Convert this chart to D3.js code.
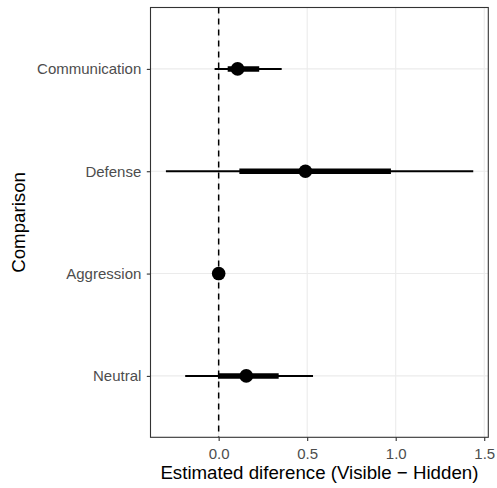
<!DOCTYPE html>
<html>
<head>
<meta charset="utf-8">
<script src="https://cdn.jsdelivr.net/npm/d3@7"></script>
<style>
  body { margin: 0; background: #fff; }
  svg { display: block; font-family: "Liberation Sans", Arial, sans-serif; }
</style>
</head>
<body>
<svg id="chart" width="497" height="488"></svg>
<script>
// categories top to bottom
const categories = ['Communication', 'Defense', 'Aggression', 'Neutral'];
const estimates = [0.107, 0.49, 0.0, 0.156];
const innerLow = [0.051, 0.117, 0.0, -0.004];
const innerHigh = [0.229, 0.973, 0.0, 0.339];
const outerLow = [-0.023, -0.298, 0.0, -0.189];
const outerHigh = [0.356, 1.438, 0.0, 0.533];
const xTicks = [0, 0.5, 1.0, 1.5];

const width = 497;
const height = 488;
const margin = { top: 7.5, right: 8.7, bottom: 50.7, left: 150.5 };
const innerWidth = width - margin.left - margin.right;
const innerHeight = height - margin.top - margin.bottom;

const rows = categories.map((name, i) => ({
  name,
  est: estimates[i],
  lo: innerLow[i],
  hi: innerHigh[i],
  lo2: outerLow[i],
  hi2: outerHigh[i],
}));

const x = d3.scaleLinear().domain([-0.385, 1.523]).range([0, innerWidth]);

// discrete axis with ggplot-style 0.6 expansion on each side
const y = d3
  .scalePoint()
  .domain(categories)
  .range([0, innerHeight])
  .padding(0.6);

const svg = d3.select('#chart');
const root = svg.append('g').attr('transform', `translate(${margin.left}, ${margin.top})`);

// grid
root
  .append('g')
  .selectAll('line')
  .data(xTicks)
  .enter()
  .append('line')
  .attr('x1', (d) => x(d))
  .attr('x2', (d) => x(d))
  .attr('y1', 0)
  .attr('y2', innerHeight)
  .attr('stroke', '#ebebeb')
  .attr('stroke-width', 1.1);

root
  .append('g')
  .selectAll('line')
  .data(categories)
  .enter()
  .append('line')
  .attr('x1', 0)
  .attr('x2', innerWidth)
  .attr('y1', (d) => y(d))
  .attr('y2', (d) => y(d))
  .attr('stroke', '#ebebeb')
  .attr('stroke-width', 1.1);

// zero reference
root
  .append('line')
  .attr('x1', x(0))
  .attr('x2', x(0))
  .attr('y1', 0)
  .attr('y2', innerHeight)
  .attr('stroke', '#000')
  .attr('stroke-width', 1.5)
  .attr('stroke-dasharray', '6 5');

// intervals
root
  .selectAll('.outer')
  .data(rows)
  .enter()
  .append('line')
  .attr('class', 'outer')
  .attr('x1', (d) => x(d.lo2))
  .attr('x2', (d) => x(d.hi2))
  .attr('y1', (d) => y(d.name))
  .attr('y2', (d) => y(d.name))
  .attr('stroke', '#000')
  .attr('stroke-width', 2);

root
  .selectAll('.inner')
  .data(rows)
  .enter()
  .append('line')
  .attr('class', 'inner')
  .attr('x1', (d) => x(d.lo))
  .attr('x2', (d) => x(d.hi))
  .attr('y1', (d) => y(d.name))
  .attr('y2', (d) => y(d.name))
  .attr('stroke', '#000')
  .attr('stroke-width', 5.5);

root
  .selectAll('circle')
  .data(rows)
  .enter()
  .append('circle')
  .attr('cx', (d) => x(d.est))
  .attr('cy', (d) => y(d.name))
  .attr('r', 6.8)
  .attr('fill', '#000');

// panel border
root
  .append('rect')
  .attr('x', 0)
  .attr('y', 0)
  .attr('width', innerWidth)
  .attr('height', innerHeight)
  .attr('fill', 'none')
  .attr('stroke', '#333333')
  .attr('stroke-width', 1.1);

// axes
root
  .append('g')
  .attr('transform', `translate(0, ${innerHeight})`)
  .call(d3.axisBottom(x).tickValues(xTicks).tickSize(3.7).tickPadding(7.3).tickFormat(d3.format('.1f')))
  .call((g) => g.select('.domain').remove())
  .call((g) => g.selectAll('line').attr('stroke', '#333333').attr('stroke-width', 1.1))
  .call((g) => g.attr('font-family', null).attr('font-size', 15))
  .call((g) => g.selectAll('text').attr('fill', '#4d4d4d'));

root
  .append('g')
  .call(d3.axisLeft(y).tickSize(3.7).tickPadding(5.5))
  .call((g) => g.select('.domain').remove())
  .call((g) => g.selectAll('line').attr('stroke', '#333333').attr('stroke-width', 1.1))
  .call((g) => g.attr('font-family', null).attr('font-size', 15))
  .call((g) => g.selectAll('text').attr('fill', '#4d4d4d'));

// titles
svg
  .append('text')
  .attr('x', margin.left + innerWidth / 2)
  .attr('y', 479)
  .attr('text-anchor', 'middle')
  .attr('font-size', 18.7)
  .attr('fill', '#000')
  .text('Estimated diference (Visible \u2212 Hidden)');

svg
  .append('text')
  .attr('transform', `translate(25, ${margin.top + innerHeight / 2}) rotate(-90)`)
  .attr('text-anchor', 'middle')
  .attr('font-size', 18.7)
  .attr('fill', '#000')
  .text('Comparison');
</script>
</body>
</html>
